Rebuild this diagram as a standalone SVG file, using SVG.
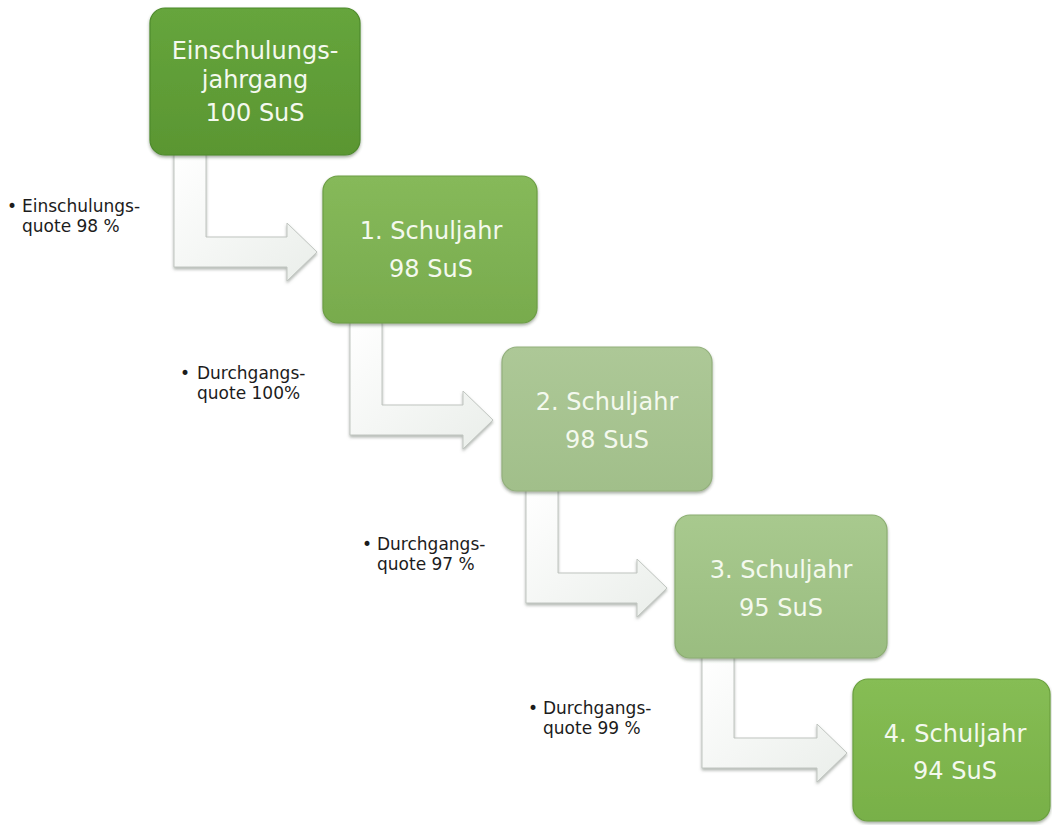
<svg xmlns="http://www.w3.org/2000/svg" width="1052" height="825" viewBox="0 0 1052 825">
<defs>
<style>
.box-t{font-family:"DejaVu Sans",Verdana,sans-serif;font-size:24px;fill:#f4f9ee;text-anchor:middle}
.lbl{font-family:"DejaVu Sans",Verdana,sans-serif;font-size:17px;fill:#1c1c1c}
.arrow{fill:url(#gArrow);stroke:#c0c5c0;stroke-width:1;filter:url(#shA)}
.box{stroke-width:1.2;filter:url(#shB)}
</style>
<linearGradient id="gArrow" x1="0" y1="0" x2="1" y2="1">
<stop offset="0" stop-color="#ffffff"/>
<stop offset="1" stop-color="#eaeeea"/>
</linearGradient>
<linearGradient id="g1" x1="0" y1="0" x2="0" y2="1">
<stop offset="0" stop-color="#66a53c"/>
<stop offset="1" stop-color="#5a9632"/>
</linearGradient>
<linearGradient id="g2" x1="0" y1="0" x2="0" y2="1">
<stop offset="0" stop-color="#86b95a"/>
<stop offset="1" stop-color="#78ab4d"/>
</linearGradient>
<linearGradient id="g3" x1="0" y1="0" x2="0" y2="1">
<stop offset="0" stop-color="#adc897"/>
<stop offset="1" stop-color="#a1bf8a"/>
</linearGradient>
<linearGradient id="g4" x1="0" y1="0" x2="0" y2="1">
<stop offset="0" stop-color="#a8c98e"/>
<stop offset="1" stop-color="#9abd80"/>
</linearGradient>
<linearGradient id="g5" x1="0" y1="0" x2="0" y2="1">
<stop offset="0" stop-color="#86bd54"/>
<stop offset="1" stop-color="#78b048"/>
</linearGradient>
<filter id="shA" x="-20%" y="-20%" width="140%" height="140%">
<feGaussianBlur in="SourceAlpha" stdDeviation="1.8"/>
<feOffset dx="0" dy="1.5" result="b"/>
<feFlood flood-color="#7d857d" flood-opacity="0.6"/>
<feComposite in2="b" operator="in"/>
<feMerge><feMergeNode/><feMergeNode in="SourceGraphic"/></feMerge>
</filter>
<filter id="shB" x="-10%" y="-10%" width="120%" height="125%">
<feGaussianBlur in="SourceAlpha" stdDeviation="1.5"/>
<feOffset dx="0" dy="1.5" result="b"/>
<feFlood flood-color="#3a4a30" flood-opacity="0.45"/>
<feComposite in2="b" operator="in"/>
<feMerge><feMergeNode/><feMergeNode in="SourceGraphic"/></feMerge>
</filter>
</defs>
<rect width="1052" height="825" fill="#ffffff"/>

<g id="connectors">
<path class="arrow" d="M174,153 H206 V237 H287 V223 L317,252 L287,281 V267 H174 Z"/>
<path class="arrow" d="M350,322 H382 V405 H463 V391 L493,420 L463,449 V435 H350 Z"/>
<path class="arrow" d="M526,489 H558 V573 H637 V559 L667,588 L637,617 V603 H526 Z"/>
<path class="arrow" d="M702,655 H734 V738 H817 V724 L847,753 L817,782 V768 H702 Z"/>
</g>

<g id="node-einschulung">
<rect class="box" x="150" y="8" width="210" height="147" rx="15" fill="url(#g1)" stroke="#4d8a2a"/>
<text class="box-t" x="255" y="59">Einschulungs-</text>
<text class="box-t" x="255" y="88">jahrgang</text>
<text class="box-t" x="255" y="121">100 SuS</text>
</g>
<g id="node-jahr1">
<rect class="box" x="323" y="176" width="214" height="147" rx="15" fill="url(#g2)" stroke="#6c9e44"/>
<text class="box-t" x="431" y="239">1. Schuljahr</text>
<text class="box-t" x="431" y="277">98 SuS</text>
</g>
<g id="node-jahr2">
<rect class="box" x="502" y="347" width="210" height="144" rx="15" fill="url(#g3)" stroke="#93b07d"/>
<text class="box-t" x="607" y="410">2. Schuljahr</text>
<text class="box-t" x="607" y="448">98 SuS</text>
</g>
<g id="node-jahr3">
<rect class="box" x="675" y="515" width="212" height="143" rx="15" fill="url(#g4)" stroke="#8cae72"/>
<text class="box-t" x="781" y="578">3. Schuljahr</text>
<text class="box-t" x="781" y="616">95 SuS</text>
</g>
<g id="node-jahr4">
<rect class="box" x="853" y="679" width="197" height="142" rx="15" fill="url(#g5)" stroke="#6aa03e"/>
<text class="box-t" x="955" y="742">4. Schuljahr</text>
<text class="box-t" x="955" y="779">94 SuS</text>
</g>

<g id="label-1">
<text class="lbl" y="212"><tspan x="7">•</tspan><tspan x="22">Einschulungs-</tspan></text>
<text class="lbl" x="22" y="232">quote 98 %</text>
</g>
<g id="label-2">
<text class="lbl" y="379"><tspan x="180">•</tspan><tspan x="197">Durchgangs-</tspan></text>
<text class="lbl" x="197" y="399">quote 100%</text>
</g>
<g id="label-3">
<text class="lbl" y="550"><tspan x="362">•</tspan><tspan x="377">Durchgangs-</tspan></text>
<text class="lbl" x="377" y="570">quote 97 %</text>
</g>
<g id="label-4">
<text class="lbl" y="714"><tspan x="528">•</tspan><tspan x="543">Durchgangs-</tspan></text>
<text class="lbl" x="543" y="734">quote 99 %</text>
</g>
</svg>
